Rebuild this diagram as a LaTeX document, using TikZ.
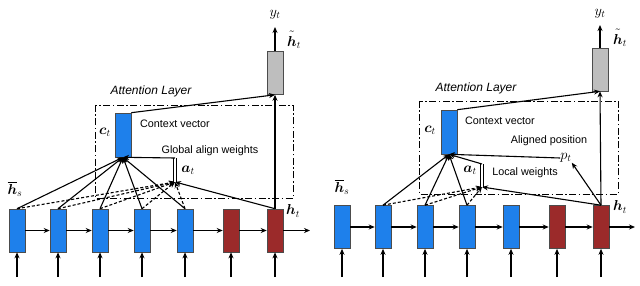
\documentclass[tikz,border=0pt]{standalone}
\usepackage{amsmath,bm}
\usepackage{fontspec}
\newfontfamily\helv{Liberation Sans}
\usetikzlibrary{arrows.meta}
\definecolor{boxblue}{RGB}{30,128,235}
\definecolor{boxred}{RGB}{155,42,42}
\definecolor{boxgray}{RGB}{190,190,190}
\newcommand{\tallh}{\raisebox{0pt}[\dimexpr\height+2.2pt\relax]{$\bm{h}$}}
\tikzset{
 cell/.style={draw=black!70, line width=0.6pt, minimum width=16pt, minimum height=43pt, inner sep=0pt},
 enc/.style={cell, fill=boxblue},
 dec/.style={cell, fill=boxred},
 outc/.style={cell, fill=boxgray},
 ctx/.style={cell, fill=boxblue, minimum height=44pt},
 arr/.style={-{Stealth[length=6pt,width=5pt]}, line width=1.1pt},
 dsh/.style={arr, dash pattern=on 3pt off 2pt},
 lbl/.style={font=\helv\fontsize{10.8}{12}\selectfont, inner sep=0pt},
 ttl/.style={font=\helv\itshape\fontsize{12}{14}\selectfont, inner sep=0pt},
 mth/.style={font=\Large, inner sep=0pt},
 frame/.style={line width=0.9pt, dash pattern=on 7pt off 2.5pt on 1.5pt off 2.5pt},
 dbl/.style={double, double distance=2.6pt, line width=0.8pt},
}
\begin{document}
\begin{tikzpicture}[x=1pt,y=-1pt]
\useasboundingbox (0,0) rectangle (640,286);
% ================= LEFT: global attention =================
\foreach \n/\x in {1/17,2/58,3/100,4/142,5/185} \node[enc] (Ls\n) at (\x,230.5) {};
\node[dec] (Lr1) at (231,230.5) {};
\node[dec] (Lr2) at (275,230.5) {};
\foreach \n/\x in {s1/17,s2/58,s3/100,s4/142,s5/185,r1/231,r2/275} {
  \coordinate (Lin\n) at (\x,277);
  \draw[arr] (Lin\n) -- (L\n.south);
}
\draw[arr] (Ls1) -- (Ls2);
\draw[arr] (Ls2) -- (Ls3);
\draw[arr] (Ls3) -- (Ls4);
\draw[arr] (Ls4) -- (Ls5);
\draw[arr] (Ls5) -- (Lr1);
\draw[arr] (Lr1) -- (Lr2);
\coordinate (Lout) at (310,230.5);
\draw[arr] (Lr2) -- (Lout);
\draw[frame] (95,105) rectangle (293,198);
\node[ctx] (Lct) at (123,135) {};
\node[outc] (Lg) at (275,73) {};
\coordinate (Ly) at (275,27);
\draw[arr] (Lg) -- (Ly);
\coordinate (Lat) at (175,182);
\coordinate (Lcorner) at (175,158);
\foreach \n in {1,...,5} {
  \draw[dsh] (Ls\n.north) -- (Lat);
  \draw[arr] (Ls\n.north) -- (Lct.south);
}
\draw[arr] (Lr2.north) -- (Lat);
\draw[dbl] (Lat) -- (Lcorner);
\draw[arr] (Lcorner) -- (Lct.south);
\draw[arr] (Lr2.north) -- (Lg.south);
\draw[arr] (Lct.north east) -- (Lg.south);
\node[mth] (Lctl) at (105,132) {$\bm{c}_t$};
\node[mth] (Latl) at (188,170) {$\bm{a}_t$};
\node[mth] (Lhs) at (15,189) {$\overline{\bm{h}}_s$};
\node[mth] (Lht) at (293,211) {$\bm{h}_t$};
\node[mth] (Lhtt) at (294,40) {$\tilde{\tallh}_t$};
\node[mth] (Lyt) at (275,15) {$y_t$};
\node[ttl] (Ltitle) at (151,91) {Attention Layer};
\node[lbl] (Lcv) at (175,124) {Context vector};
\node[lbl] (Lgaw) at (210,151) {Global align weights};
% ================= RIGHT: local attention =================
\foreach \n/\x in {1/342,2/383,3/425,4/467,5/511} \node[enc] (Rs\n) at (\x,227) {};
\node[dec] (Rr1) at (557,227) {};
\node[dec] (Rr2) at (601,227) {};
\foreach \n/\x in {s1/342,s2/383,s3/425,s4/467,s5/511,r1/557,r2/601} {
  \coordinate (Rin\n) at (\x,277);
  \draw[arr] (Rin\n) -- (R\n.south);
}
\draw[arr] (Rs1) -- (Rs2);
\draw[arr] (Rs2) -- (Rs3);
\draw[arr] (Rs3) -- (Rs4);
\draw[arr] (Rs4) -- (Rs5);
\draw[arr] (Rs5) -- (Rr1);
\draw[arr] (Rr1) -- (Rr2);
\coordinate (Rout) at (635,227);
\draw[arr] (Rr2) -- (Rout);
\draw[frame] (419,101) rectangle (618,194);
\node[ctx] (Rct) at (449,132) {};
\node[outc] (Rg) at (600,69.5) {};
\coordinate (Ry) at (600,25);
\draw[arr] (Rg) -- (Ry);
\node[mth] (Rpt) at (566,158) {$p_t$};
\coordinate (Rat) at (482,187);
\coordinate (Rcorner) at (482,164);
\foreach \n in {2,3,4} {
  \draw[dsh] (Rs\n.north) -- (Rat);
  \draw[arr] (Rs\n.north) -- (Rct.south);
}
\draw[arr] (Rr2.north) -- (Rat);
\draw[arr] (Rr2.north) -- (Rpt.south east);
\draw[arr] (Rpt.west) -- (Rct.south);
\draw[dbl] (Rat) -- (Rcorner);
\draw[arr] (Rcorner) -- (Rct.south);
\draw[arr] (Rr2.north) -- (Rg.south);
\draw[arr] (Rct.north east) -- (Rg.south);
\node[mth] (Rctl) at (430,130) {$\bm{c}_t$};
\node[mth] (Ratl) at (470,170) {$\bm{a}_t$};
\node[mth] (Rhs) at (342,187) {$\overline{\bm{h}}_s$};
\node[mth] (Rht) at (620,207) {$\bm{h}_t$};
\node[mth] (Rhtt) at (620,38) {$\tilde{\tallh}_t$};
\node[mth] (Ryt) at (600,14) {$y_t$};
\node[ttl] (Rtitle) at (476,88) {Attention Layer};
\node[lbl] (Rcv) at (500,121) {Context vector};
\node[lbl] (Rap) at (549,141) {Aligned position};
\node[lbl] (Rlw) at (525,173) {Local weights};
\end{tikzpicture}
\end{document}
